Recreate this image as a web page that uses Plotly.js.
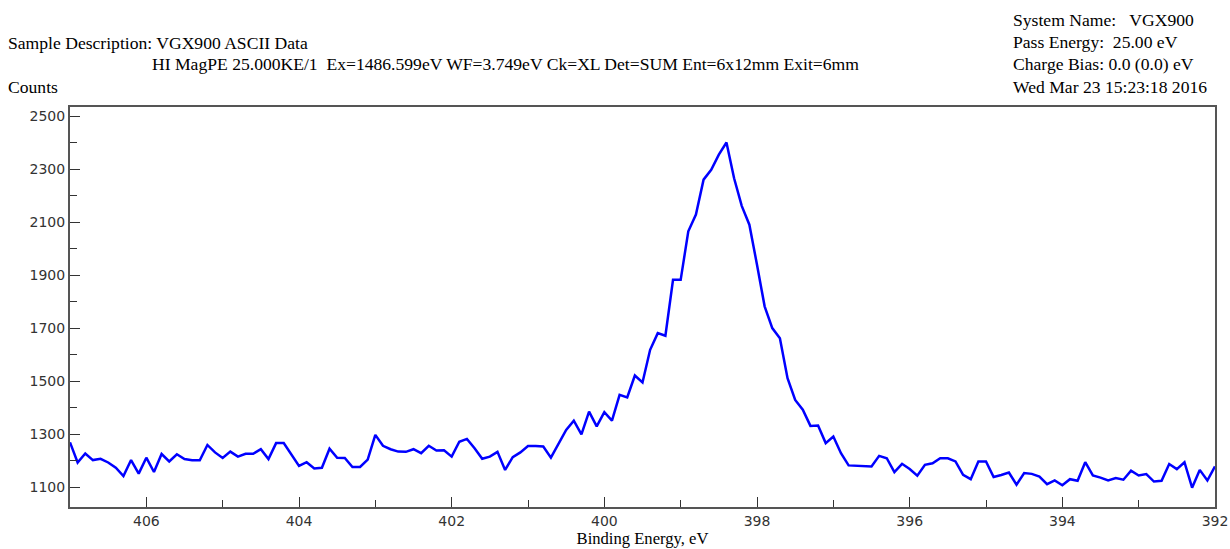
<!DOCTYPE html>
<html>
<head>
<meta charset="utf-8">
<script src="https://cdn.plot.ly/plotly-3.0.1.min.js"></script>
<style>html,body{margin:0;padding:0;background:#fff;}#chart{width:1230px;height:549px;}</style>
</head>
<body>
<div id="chart"></div>
<script>
// Binding energy from 407.0 down to 392.0 eV in 0.1 eV steps
const startEnergy = 407.0;
const energyStep = -0.1;
const counts = [
  1269,1193,1227,1202,1207,1193,1173,1142,1202,1151,
  1211,1157,1225,1197,1224,1206,1201,1201,1259,1231,
  1210,1234,1215,1226,1226,1243,1206,1266,1266,1221,
  1180,1194,1170,1173,1245,1211,1210,1176,1176,1204,
  1297,1256,1243,1234,1233,1243,1228,1256,1238,1239,
  1215,1271,1282,1247,1207,1215,1233,1165,1213,1231,
  1255,1255,1253,1211,1266,1316,1351,1299,1385,1329,
  1383,1351,1448,1438,1521,1495,1618,1681,1671,1882,
  1882,2065,2128,2260,2297,2354,2400,2265,2161,2090,
  1939,1782,1700,1662,1511,1429,1392,1331,1332,1266,
  1291,1228,1182,1181,1178,1178,1218,1209,1157,1188,
  1168,1143,1184,1190,1209,1209,1197,1146,1130,1197,
  1197,1138,1146,1155,1109,1153,1150,1140,1111,1125,
  1107,1130,1124,1194,1144,1136,1125,1134,1128,1162,
  1144,1149,1121,1124,1187,1168,1194,1098,1165,1125,
  1178
];
const energies = counts.map((_, i) => +(startEnergy + i * energyStep).toFixed(1));

const xTickVals = [406, 404, 402, 400, 398, 396, 394, 392];
const xTickText = ["406", "404", "402", "400", "398", "396", "394", "392"];
const yTickVals = [1100, 1300, 1500, 1700, 1900, 2100, 2300, 2500];
const yTickText = ["1100", "1300", "1500", "1700", "1900", "2100", "2300", "2500"];

const headerLeft = [
  "Sample Description: VGX900 ASCII Data",
  "HI MagPE 25.000KE/1\u00a0\u00a0Ex=1486.599eV WF=3.749eV Ck=XL Det=SUM Ent=6x12mm Exit=6mm",
  "Counts"
];
const headerRight = [
  "System Name:\u00a0\u00a0\u00a0VGX900",
  "Pass Energy:\u00a0\u00a025.00 eV",
  "Charge Bias: 0.0 (0.0) eV",
  "Wed Mar 23 15:23:18 2016"
];
const xTitle = "Binding Energy, eV";

// plot area in pixels
const L = 70, R = 1215, T = 107, B = 507;
const W = 1230, H = 549;
const px = x => (x - L) / (R - L);
const py = y => (B - y) / (B - T);

const serif = {family: "'Liberation Serif', 'Times New Roman', serif", size: 17.6, color: '#000'};
const serifTitle = {family: "'Liberation Serif', 'Times New Roman', serif", size: 16.6, color: '#000'};
const sans = {family: "'DejaVu Sans', 'Liberation Sans', sans-serif", size: 14, color: '#333'};

const ann = [];
ann.push({text: headerLeft[0], x: px(6), y: py(43), xanchor: 'left', yanchor: 'middle'});
ann.push({text: headerLeft[1], x: px(150), y: py(64), xanchor: 'left', yanchor: 'middle'});
ann.push({text: headerLeft[2], x: px(6), y: py(87), xanchor: 'left', yanchor: 'middle'});
const ry = [20, 42, 64, 87];
headerRight.forEach((t, i) => ann.push({text: t, x: px(1011), y: py(ry[i]), xanchor: 'left', yanchor: 'middle'}));
ann.forEach(a => { a.xref = 'paper'; a.yref = 'paper'; a.showarrow = false; a.font = serif; });

const trace = {
  x: energies, y: counts, type: 'scatter', mode: 'lines',
  line: {color: '#0000ff', width: 2.5}, hoverinfo: 'skip'
};

const layout = {
  width: W, height: H,
  margin: {l: L, r: W - R, t: T, b: H - B},
  paper_bgcolor: '#fff', plot_bgcolor: '#fff',
  showlegend: false,
  xaxis: {
    range: [407, 392], autorange: false,
    tickvals: xTickVals, ticktext: xTickText,
    ticks: 'inside', ticklen: 10, tickwidth: 1, tickcolor: '#333',
    minor: {ticks: 'inside', ticklen: 7, tickwidth: 1, tickcolor: '#333', dtick: 1, tick0: 392, showgrid: false},
    showline: true, linecolor: '#555', linewidth: 2, mirror: true,
    showgrid: false, zeroline: false,
    tickfont: sans,
    title: {text: xTitle, font: serifTitle, standoff: 5}
  },
  yaxis: {
    range: [1025, 2534], autorange: false,
    tickvals: yTickVals, ticktext: yTickText,
    ticks: 'inside', ticklen: 10, tickwidth: 1, tickcolor: '#333',
    minor: {ticks: 'inside', ticklen: 7, tickwidth: 1, tickcolor: '#333', dtick: 100, tick0: 1100, showgrid: false},
    showline: true, linecolor: '#555', linewidth: 2, mirror: true,
    showgrid: false, zeroline: false,
    tickfont: sans
  },
  annotations: ann
};

Plotly.newPlot('chart', [trace], layout, {staticPlot: true, displayModeBar: false});
</script>
</body>
</html>
